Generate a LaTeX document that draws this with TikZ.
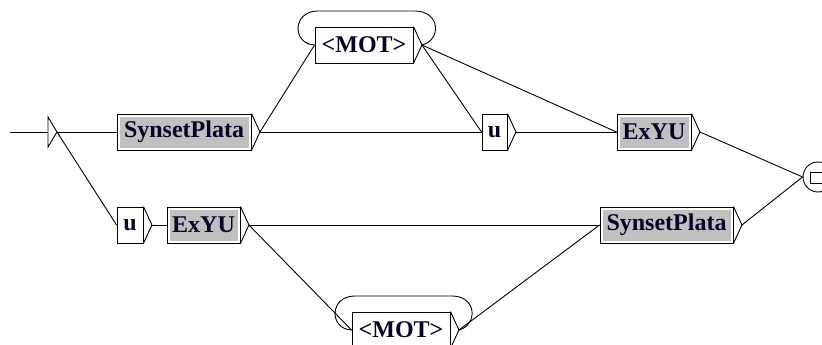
\documentclass[tikz,border=0pt]{standalone}
\usepackage{fontspec}
\setmainfont{Liberation Serif}
\definecolor{boxgray}{RGB}{192,192,192}
\definecolor{ink}{RGB}{5,5,40}
\tikzset{
  box/.style={draw, line width=0.9pt, inner sep=0pt, minimum height=36pt,
    font=\fontsize{24}{24}\selectfont\bfseries, text=ink, fill=white},
  subbox/.style={box, path picture={\fill[boxgray]
      ([shift={(2.5pt,-2.5pt)}]path picture bounding box.north west) rectangle
      ([shift={(-2.5pt,2.5pt)}]path picture bounding box.south east);}},
  arc/.style={line width=0.9pt}
}
\begin{document}
\begin{tikzpicture}[x=1pt,y=-1pt] %Grafo Unitex
    \useasboundingbox (0,0) rectangle (822,345);

    % estado inicial
    \coordinate (in) at (10,132);
    \coordinate (init) at (57,132);
    \draw[arc] (in) -- (48,132);
    \draw[arc] (48,117) -- (init) -- (48,147) -- cycle;

    % cajas de arriba
    \node[subbox, minimum width=134pt] (sp1) at (184,132) {SynsetPlata};
    \node[box, minimum width=98pt] (mot1) at (364,45) {<MOT>};
    \node[box, minimum width=25pt] (u1) at (494.5,132) {u};
    \node[subbox, minimum width=74pt] (ex1) at (654,132) {ExYU};

    % cajas de abajo
    \node[box, minimum width=26pt] (u2) at (130,225) {u};
    \node[subbox, minimum width=73pt] (ex2) at (203.5,225) {ExYU};
    \node[box, minimum width=98pt] (mot2) at (401,330) {<MOT>};
    \node[subbox, minimum width=133pt] (sp2) at (666.5,225) {SynsetPlata};

    % estado final
    \node[draw, circle, line width=0.9pt, minimum size=30pt, inner sep=0pt] (fin) at (818,177) {};
    \draw[line width=0.9pt] (810,172) rectangle (824,183);

    % salidas de las cajas
    \foreach \b in {sp1,mot1,u1,ex1,u2,ex2,mot2,sp2}{
        \coordinate (\b-o) at ([xshift=8.5pt]\b.east);
        \draw[arc] (\b.north east) -- (\b-o) -- (\b.south east);
    }

    % bucles
    \draw[arc] (mot1-o) .. controls (442,40) and (440,11) .. (415,11) -- (318,11)
        .. controls (292,11) and (292,44) .. (mot1.west);
    \draw[arc] (mot2-o) .. controls (478,325) and (477,296) .. (452,296) -- (355,296)
        .. controls (329,296) and (329,329) .. (mot2.west);

    % transiciones
    \draw[arc] (init) -- (sp1.west);
    \draw[arc] (init) -- (u2.west);
    \draw[arc] (sp1-o) -- (mot1.west);
    \draw[arc] (sp1-o) -- (u1.west);
    \draw[arc] (mot1-o) -- (u1.west);
    \draw[arc] (mot1-o) -- (ex1.west);
    \draw[arc] (u1-o) -- (ex1.west);
    \draw[arc] (ex1-o) -- (fin.west);
    \draw[arc] (u2-o) -- (ex2.west);
    \draw[arc] (ex2-o) -- (sp2.west);
    \draw[arc] (ex2-o) -- (mot2.west);
    \draw[arc] (mot2-o) -- (sp2.west);
    \draw[arc] (sp2-o) -- (fin.west);
\end{tikzpicture}
\end{document}
